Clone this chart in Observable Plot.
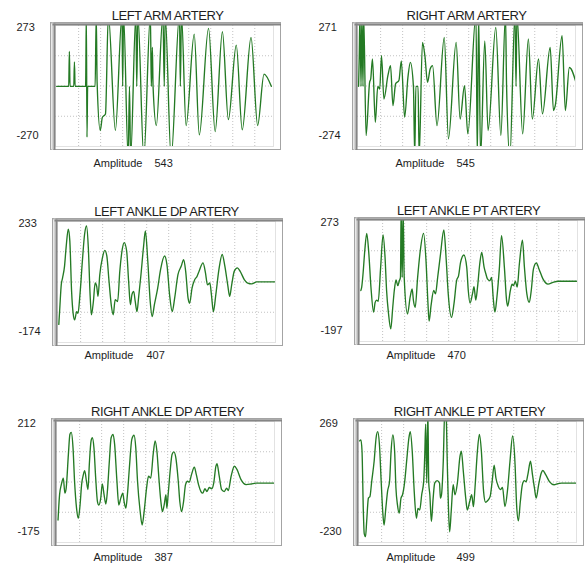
<!DOCTYPE html>
<html>
<head>
<meta charset="utf-8">
<script src="https://cdn.jsdelivr.net/npm/d3@7"></script>
<script src="https://cdn.jsdelivr.net/npm/@observablehq/plot@0.6"></script>
<style>
  html, body { margin: 0; padding: 0; background: #fff; overflow: hidden; }
  #chart { position: relative; width: 587px; height: 563px; background: #fff; }
  #chart svg { position: absolute; overflow: visible; }
  #chart svg g[font-size="13"] { letter-spacing: -0.45px; }
</style>
</head>
<body>
<div id="chart"></div>
<script>
// ---- chart values (time in % of window, amplitude in signal units) ----
const titles = ["LEFT ARM ARTERY", "RIGHT ARM ARTERY", "LEFT ANKLE DP ARTERY",
                "LEFT ANKLE PT ARTERY", "RIGHT ANKLE DP ARTERY", "RIGHT ANKLE PT ARTERY"];
const yMax = [273, 271, 233, 273, 212, 269];
const yMin = [-270, -274, -174, -197, -175, -230];
const amplitudes = [543, 545, 407, 470, 387, 499];
const gridX = [10, 20, 30, 40, 50, 60, 70, 80, 90];
const gridFractions = [0.25, 0.5, 0.75];

const leftArm = [[0,0],[5.5,0],[5.8,157],[6.1,0],[7.8,0],[8.1,110],[8.4,0],[13.2,0],[13.3,104],[13.5,320],[13.8,-228],[14.1,0],
  [17.5,0],[18.0,320],[18.4,18],[19.8,-198],[20.8,-139],[21.6,-131],[22.2,-124],[23.5,320],[26.7,-198],[29.7,320],[30.0,0],[30.4,320],
  [32.5,-320],[33.1,0],[33.6,-320],[36.0,320],[36.4,0],[36.9,320],[39.6,-320],[42.6,320],[43.0,0],[43.5,175],[43.8,0],[45.3,-176],
  [48.3,320],[48.9,0],[49.3,320],[52.0,-320],[55.8,320],[56.2,0],[56.7,320],[58.8,-176],[62.5,234],[64.8,-218],[69.0,260],[72.0,-203],
  [75.3,245],[78.0,-149],[81.6,185],[84.3,-195],[88.3,219],[91.3,-176],[94.2,55],[97.5,0]];

const rightArm = [[0,-3],[0.3,135],[0.6,320],[1.1,-3],[1.5,320],[2.0,-3],[2.3,320],[3.4,-225],[5.0,15],[5.5,30],[6.3,120],[7.6,-165],
  [8.7,-3],[9.6,-15],[10.4,135],[11.5,-60],[13.3,45],[14.5,90],[15.6,-90],[16.8,8],[18.3,23],[19.4,112],[20.9,-142],[22.4,37],[23.5,105],
  [24.9,-3],[25.5,-320],[26.0,-3],[27.0,-3],[27.5,-320],[29.0,195],[30.1,135],[31.3,15],[32.5,75],[33.6,90],[35.6,-180],[38.9,217],
  [40.8,-239],[44.3,195],[46.1,-150],[48.1,0],[49.6,-217],[53.3,320],[53.9,-320],[54.5,320],[55.4,-320],[57.3,202],[58.8,-202],
  [62.3,262],[64.6,-225],[66.7,320],[67.2,-3],[68.7,-320],[71.0,320],[71.5,-3],[71.9,320],[74.5,-217],[77.1,210],[78.9,-150],
  [81.7,120],[83.5,-127],[87.0,172],[88.5,-112],[89.3,-90],[92.4,225],[93.9,-112],[95.7,82],[99.2,-3]];

const leftAnkleDP = [[0.1,-113],[0.5,-64],[1.2,20],[1.8,43],[2.7,83],[3.4,145],[4.4,207],[5.1,167],[5.9,-2],[6.6,-76],[7.3,-98],
  [8.2,-70],[8.8,-76],[9.7,-13],[10.8,100],[11.8,190],[12.7,218],[13.5,145],[14.3,-13],[14.9,-81],[15.8,-36],[16.6,26],[17.3,15],
  [17.9,-19],[18.7,54],[19.9,111],[21.0,136],[21.9,117],[22.9,32],[24.0,-53],[24.8,-81],[25.7,-30],[26.8,-36],[27.8,66],[28.9,139],
  [29.8,162],[30.9,134],[31.8,32],[32.6,-47],[33.3,-13],[34.1,-2],[34.8,-36],[35.6,-70],[36.3,-25],[37.4,54],[38.6,150],[39.4,201],
  [40.5,100],[41.6,-36],[42.5,-87],[43.5,-47],[45.0,9],[46.3,71],[48.1,117],[49.2,88],[50.4,-13],[51.6,-70],[52.7,-25],[54.2,54],
  [55.7,83],[56.8,105],[57.7,66],[58.8,-25],[59.5,-42],[60.6,9],[61.8,37],[62.9,49],[63.8,66],[65.6,94],[66.7,60],[67.6,20],[68.7,26],
  [69.4,-13],[70.3,-70],[71.4,-13],[72.8,71],[74.3,122],[75.5,83],[76.8,20],[77.7,-19],[78.6,20],[79.8,66],[81.2,77],[82.4,66],
  [84.4,37],[85.9,26],[87.7,23],[90.0,30],[98.4,30]];

const leftAnklePT = [[0.1,1],[0.5,14],[1.1,65],[1.9,156],[2.8,223],[3.7,149],[4.7,14],[5.9,-83],[6.6,-45],[7.3,-36],[8.0,-41],[9.1,91],
  [10.2,217],[11.1,130],[11.8,1],[12.7,-90],[13.7,-148],[14.6,-64],[15.3,1],[16.1,42],[16.9,20],[17.6,39],[18.1,52],[18.4,320],[18.9,52],
  [19.3,320],[19.8,52],[21.3,-90],[22.5,-25],[23.4,7],[24.0,-38],[24.8,-64],[25.9,52],[27.1,156],[28.6,223],[29.7,117],[30.6,-51],
  [31.1,-118],[32.0,-57],[33.2,1],[34.0,-12],[35.0,52],[36.3,143],[37.8,236],[38.9,117],[39.8,-12],[41.3,-103],[42.4,-51],[43.6,39],
  [44.5,59],[45.4,110],[46.9,139],[48.2,91],[48.9,1],[49.7,-48],[50.8,-12],[51.5,16],[52.3,-36],[53.1,14],[54.1,104],[55.0,149],
  [56.1,91],[56.9,65],[57.6,46],[58.7,39],[59.5,52],[60.2,-25],[61.0,-83],[61.9,-25],[63.0,85],[64.0,214],[65.3,91],[66.3,-38],
  [66.8,-59],[68.0,1],[68.8,26],[69.4,20],[70.3,37],[71.1,14],[72.1,104],[73.5,197],[74.4,91],[75.5,-12],[76.6,-45],[77.5,1],
  [78.5,85],[79.8,108],[81.0,85],[82.8,46],[85.1,26],[87.4,33],[89.7,37],[98.1,37]];

const rightAnkleDP = [[0.2,-103],[0.9,-22],[1.7,10],[2.6,31],[3.3,-17],[3.9,-1],[4.9,107],[5.6,171],[6.2,177],[7.0,128],[7.7,21],
  [8.6,-65],[9.4,-98],[10.2,-55],[10.9,10],[11.7,42],[12.3,55],[13.1,21],[13.8,-6],[14.4,74],[15.2,150],[15.8,160],[16.5,128],[17.3,31],
  [18.1,-44],[18.7,-55],[19.6,-33],[20.3,12],[21.1,-22],[21.9,-52],[22.6,-12],[23.5,85],[24.3,160],[25.2,171],[25.9,139],[26.9,26],
  [27.8,-55],[28.7,-33],[29.6,-17],[30.2,-44],[31.0,-65],[31.7,-22],[32.6,64],[33.7,155],[34.7,168],[35.5,128],[36.3,21],[37.5,-76],
  [38.4,-119],[39.3,-76],[40.4,-1],[41.3,37],[42.3,31],[43.4,107],[44.3,150],[45.1,117],[46.0,31],[46.9,-44],[47.6,-76],[48.4,-55],
  [49.2,-22],[49.6,-65],[50.2,-22],[51.1,53],[52.0,107],[52.8,115],[53.7,96],[54.8,21],[55.5,-44],[56.3,-76],[57.2,-44],[58.1,10],
  [59.0,21],[59.8,18],[60.8,42],[62.1,66],[63.0,42],[64.0,10],[65.1,-12],[65.9,-17],[66.9,-3],[67.8,-12],[68.9,1],[70.0,-3],[70.9,15],
  [71.9,69],[72.4,77],[73.4,37],[74.5,-6],[75.7,-12],[76.8,-1],[77.5,-9],[78.8,37],[80.3,69],[81.5,58],[83.3,26],[85.6,10],[87.9,12],
  [90.1,15],[98.5,15]];

const rightAnklePT = [[0.0,189],[0.6,193],[1.1,147],[1.7,-102],[2.1,-193],[2.7,-206],[3.2,-144],[4.0,-47],[4.7,-40],[5.5,22],[6.6,105],
  [7.5,202],[8.2,227],[9.0,175],[9.8,22],[10.5,-102],[11.1,-158],[11.9,-89],[12.7,-19],[13.6,22],[14.3,147],[15.1,214],[15.9,147],
  [16.5,-5],[17.2,-75],[18.0,-109],[18.8,-47],[19.5,-33],[20.4,15],[21.5,119],[22.4,202],[23.0,227],[23.9,147],[24.8,-19],[25.8,-130],
  [26.5,-89],[27.3,-96],[28.2,-33],[29.1,22],[29.6,133],[30.0,258],[30.5,15],[31.0,320],[31.4,15],[31.9,-33],[32.6,-144],[33.4,-47],
  [34.1,15],[35.2,25],[36.3,15],[36.7,-47],[37.2,-33],[38.0,105],[38.7,320],[39.3,300],[39.8,105],[40.4,-102],[40.9,-186],[41.6,-102],
  [42.5,8],[43.3,-33],[44.4,15],[45.6,126],[46.2,147],[47.1,64],[48.2,-47],[48.9,-96],[50.0,-61],[50.9,-33],[51.7,-82],[52.4,-5],
  [53.5,147],[54.4,216],[55.3,147],[56.3,-19],[57.2,-64],[58.1,-58],[59.3,-40],[60.2,22],[61.1,89],[61.9,36],[63.0,1],[63.9,-12],
  [64.9,-3],[66.0,-82],[67.2,-12],[68.3,105],[69.5,209],[70.6,92],[71.3,-75],[72.1,-141],[73.0,-61],[73.9,8],[74.8,25],[75.6,20],
  [76.4,50],[77.6,105],[78.5,50],[79.4,-5],[80.2,-47],[81.3,8],[82.5,57],[83.2,67],[84.5,50],[86.3,20],[88.3,8],[90.1,13],[91.6,15],
  [98.5,15]];

const series = [leftArm, rightArm, leftAnkleDP, leftAnklePT, rightAnkleDP, rightAnklePT];

// ---- layout (positions only) ----
const layout = [
  {left: 5,   top: 1,   titleDx: 3, ampDx: 38, valDx: 99, ampDy: 20},
  {left: 307, top: 1,   titleDx: 0, ampDx: 38, valDx: 99, ampDy: 20},
  {left: 7,   top: 197, titleDx: 0, ampDx: 27, valDx: 89, ampDy: 16},
  {left: 309, top: 196, titleDx: 0, ampDx: 27, valDx: 88, ampDy: 17},
  {left: 6,   top: 397, titleDx: 2, ampDx: 37, valDx: 98, ampDy: 18},
  {left: 308, top: 397, titleDx: 2, ampDx: 28, valDx: 98, ampDy: 18}
];

const FONT = "'Liberation Sans', Arial, Helvetica, sans-serif";
const TEXT = "#1e1e1e";
const chart = document.getElementById("chart");

series.forEach((data, i) => {
  const L = layout[i];
  const lo = yMin[i], hi = yMax[i];
  const svg = Plot.plot({
    width: 278, height: 167,
    marginLeft: 50, marginTop: 24, marginRight: 10, marginBottom: 22,
    x: {domain: [-0.5, 98.5], axis: null},
    y: {domain: [lo, hi], axis: null},
    style: {fontFamily: FONT, background: "transparent", color: TEXT},
    marks: [
      Plot.frame({fill: "white", stroke: "#e2e2e2"}),
      Plot.ruleX(gridX, {stroke: "#c2c2c2", strokeDasharray: "1,2"}),
      Plot.ruleY(gridFractions.map(k => lo + (hi - lo) * k), {stroke: "#c2c2c2", strokeDasharray: "1,2"}),
      Plot.line(data, {x: d => d[0], y: d => d[1], stroke: "#247a24", strokeWidth: 1.35, curve: "monotone-x", clip: true}),
      // bevelled border
      Plot.frame({stroke: "#a4a4a4", insetLeft: -5, insetTop: -3, insetRight: -7, insetBottom: -3}),
      Plot.frame({anchor: "left", stroke: "#d2d2d2", strokeWidth: 2, insetLeft: -3, insetTop: -2, insetBottom: -2.5}),
      Plot.frame({anchor: "top", stroke: "#d2d2d2", strokeWidth: 1, insetTop: -2, insetLeft: -4, insetRight: -6.5}),
      Plot.frame({anchor: "left", stroke: "#858585", strokeWidth: 2, insetLeft: -1, insetTop: -1, insetBottom: -2.5}),
      Plot.frame({anchor: "top", stroke: "#858585", strokeWidth: 2, insetTop: -1, insetLeft: -2, insetRight: -6.5}),
      // texts
      Plot.text([titles[i]], {text: d => d, frameAnchor: "top", dx: L.titleDx, dy: -6, lineAnchor: "bottom",
        fontSize: 13, fill: TEXT}),
      Plot.text([yMax[i]], {text: d => String(d), frameAnchor: "top-left", dx: -39, dy: 2, textAnchor: "start",
        lineAnchor: "middle", fontSize: 11, fill: TEXT}),
      Plot.text([yMin[i]], {text: d => String(d), frameAnchor: "bottom-left", dx: -39, dy: -11, textAnchor: "start",
        lineAnchor: "middle", fontSize: 11, fill: TEXT}),
      Plot.text(["Amplitude"], {text: d => d, frameAnchor: "bottom-left", dx: L.ampDx, dy: L.ampDy, textAnchor: "start",
        lineAnchor: "bottom", fontSize: 11, fill: TEXT}),
      Plot.text([amplitudes[i]], {text: d => String(d), frameAnchor: "bottom-left", dx: L.valDx, dy: L.ampDy, textAnchor: "start",
        lineAnchor: "bottom", fontSize: 11, fill: TEXT})
    ]
  });
  svg.style.left = L.left + "px";
  svg.style.top = L.top + "px";
  chart.appendChild(svg);
});
</script>
</body>
</html>
